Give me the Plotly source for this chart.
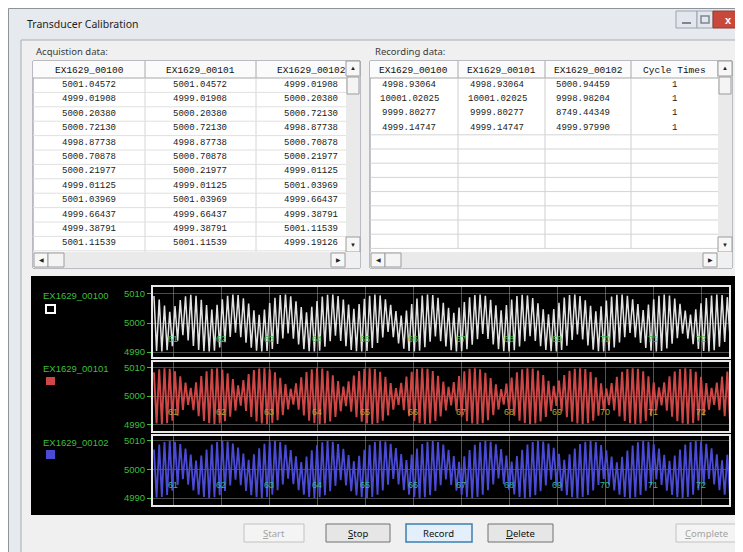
import plotly.graph_objects as go

W, H = 743, 552

# ---------------- data ----------------
window_title = "Transducer Calibration"
acq_label = "Acquistion data:"
rec_label = "Recording data:"

channel_names = ["EX1629_00100", "EX1629_00101", "EX1629_00102"]

acq_col1 = ["5001.04572", "4999.01908", "5000.20380", "5000.72130", "4998.87738", "5000.70878",
            "5000.21977", "4999.01125", "5001.03969", "4999.66437", "4999.38791", "5001.11539"]
acq_col2 = ["5001.04572", "4999.01908", "5000.20380", "5000.72130", "4998.87738", "5000.70878",
            "5000.21977", "4999.01125", "5001.03969", "4999.66437", "4999.38791", "5001.11539"]
acq_col3 = ["4999.01908", "5000.20380", "5000.72130", "4998.87738", "5000.70878", "5000.21977",
            "4999.01125", "5001.03969", "4999.66437", "4999.38791", "5001.11539", "4999.19126"]

rec_headers = ["EX1629_00100", "EX1629_00101", "EX1629_00102", "Cycle Times"]
rec_col1 = ["4998.93064", "10001.02025", "9999.80277", "4999.14747"]
rec_col2 = ["4998.93064", "10001.02025", "9999.80277", "4999.14747"]
rec_col3 = ["5000.94459", "9998.98204", "8749.44349", "4999.97990"]
rec_cycles = ["1", "1", "1", "1"]

y_tick_values = [4990, 5000, 5010]
y_tick_labels = ["4990", "5000", "5010"]
time_labels = ["61", "62", "63", "64", "65", "66", "67", "68", "69", "70", "71", "72"]

start_time = 60.6
sample_interval = 12 / 219

white_peaks = [
    5009.3, 5008.1, 5006.0, 5003.9, 5005.8, 5007.9, 5009.2, 5009.7, 5009.4, 5008.0,
    5006.2, 5004.6, 5006.3, 5008.2, 5009.4, 5009.8, 5009.6, 5008.5, 5006.7, 5004.4,
    5002.8, 5004.6, 5006.9, 5008.7, 5009.6, 5009.8, 5009.2, 5007.5, 5005.5, 5003.7,
    5005.6, 5007.6, 5009.1, 5009.7, 5009.8, 5009.3, 5008.1, 5006.4, 5004.9, 5006.5,
    5008.3, 5009.4, 5009.8, 5009.5, 5008.2, 5006.3, 5004.1, 5002.6, 5004.3, 5006.5,
    5008.4, 5009.5, 5009.8, 5009.6, 5008.7, 5007.0, 5005.2, 5003.5, 5005.3, 5007.2,
    5008.9, 5009.6, 5009.8, 5009.4, 5008.0, 5006.1, 5004.4, 5006.2, 5008.1, 5009.3,
    5009.7, 5009.5, 5008.6, 5006.8, 5004.7, 5003.0, 5004.8, 5007.0, 5008.8, 5009.6,
    5009.8, 5009.3, 5007.8, 5005.9, 5004.0, 5005.8, 5007.7, 5009.1, 5009.7, 5009.8,
    5009.4, 5008.2, 5006.5, 5004.5, 5006.4, 5008.2, 5009.4, 5009.8, 5009.5, 5008.4,
    5006.6, 5004.3, 5002.9, 5004.7, 5006.8, 5008.6, 5009.5, 5009.8, 5009.6, 5008.9]
white_troughs = [
    4990.4, 4990.2, 4990.6, 4992.0, 4993.9, 4995.8, 4994.0, 4992.1, 4990.7, 4990.3,
    4990.2, 4990.5, 4991.6, 4993.4, 4995.2, 4996.7, 4995.1, 4993.2, 4991.5, 4990.5,
    4990.2, 4990.4, 4991.1, 4992.8, 4994.7, 4996.4, 4994.6, 4992.6, 4991.0, 4990.3,
    4990.2, 4990.5, 4991.8, 4993.7, 4995.6, 4993.8, 4992.0, 4990.7, 4990.3, 4990.2,
    4990.4, 4991.4, 4993.1, 4995.0, 4996.9, 4995.1, 4993.0, 4991.2, 4990.4, 4990.2,
    4990.5, 4991.7, 4993.6, 4995.4, 4993.7, 4991.9, 4990.6, 4990.2, 4990.3, 4991.0,
    4992.5, 4994.4, 4996.2, 4994.5, 4992.6, 4991.0, 4990.3, 4990.2, 4990.6, 4991.9,
    4993.7, 4995.5, 4993.8, 4992.0, 4990.7, 4990.3, 4990.2, 4990.7, 4992.2, 4994.2,
    4996.1, 4994.3, 4992.3, 4990.8, 4990.3, 4990.2, 4990.5, 4991.6, 4993.3, 4995.1,
    4996.6, 4995.0, 4993.1, 4991.4, 4990.5, 4990.2, 4990.4, 4991.2, 4992.9, 4994.8,
    4996.3, 4994.6, 4992.7, 4991.1, 4990.4, 4990.2, 4990.6, 4991.8, 4993.5, 4995.3]

red_peaks = [
    5008.4, 5009.5, 5009.9, 5009.7, 5008.8, 5007.0, 5004.8, 5002.9, 5004.9, 5007.1,
    5008.8, 5009.7, 5009.9, 5009.4, 5008.1, 5006.0, 5003.8, 5005.7, 5007.8, 5009.2,
    5009.8, 5009.9, 5009.5, 5008.4, 5006.5, 5004.3, 5002.6, 5004.5, 5006.7, 5008.5,
    5009.5, 5009.9, 5009.8, 5009.0, 5007.4, 5005.3, 5003.4, 5005.2, 5007.3, 5008.9,
    5009.7, 5009.9, 5009.6, 5008.6, 5006.8, 5004.6, 5002.8, 5004.7, 5006.9, 5008.6,
    5009.6, 5009.9, 5009.7, 5008.9, 5007.2, 5005.1, 5003.3, 5005.0, 5007.1, 5008.8,
    5009.7, 5009.9, 5009.5, 5008.3, 5006.4, 5004.2, 5002.5, 5004.4, 5006.6, 5008.4,
    5009.5, 5009.9, 5009.8, 5009.1, 5007.5, 5005.4, 5003.6, 5005.5, 5007.5, 5009.0,
    5009.7, 5009.9, 5009.6, 5008.5, 5006.7, 5004.5, 5002.7, 5004.6, 5006.8, 5008.6,
    5009.6, 5009.9, 5009.7, 5008.8, 5007.0, 5004.9, 5003.1, 5004.9, 5007.0, 5008.7,
    5009.6, 5009.9, 5009.6, 5008.6, 5006.8, 5004.6, 5002.9, 5004.8, 5006.9, 5008.7]
red_troughs = [
    4990.3, 4990.1, 4990.4, 4991.3, 4993.0, 4995.1, 4996.9, 4995.0, 4992.9, 4991.2,
    4990.4, 4990.1, 4990.3, 4991.1, 4992.7, 4994.8, 4996.6, 4994.7, 4992.6, 4991.0,
    4990.3, 4990.1, 4990.4, 4991.4, 4993.2, 4995.3, 4997.0, 4995.2, 4993.1, 4991.3,
    4990.4, 4990.1, 4990.3, 4991.0, 4992.6, 4994.6, 4996.4, 4994.5, 4992.5, 4990.9,
    4990.3, 4990.1, 4990.4, 4991.3, 4993.1, 4995.2, 4996.9, 4995.0, 4992.9, 4991.2,
    4990.4, 4990.1, 4990.3, 4991.2, 4992.8, 4994.9, 4996.7, 4994.8, 4992.7, 4991.1,
    4990.3, 4990.1, 4990.4, 4991.4, 4993.2, 4995.2, 4997.0, 4995.1, 4993.0, 4991.3,
    4990.4, 4990.1, 4990.3, 4991.0, 4992.6, 4994.7, 4996.5, 4994.6, 4992.5, 4990.9,
    4990.3, 4990.1, 4990.4, 4991.3, 4993.0, 4995.1, 4996.8, 4994.9, 4992.8, 4991.2,
    4990.4, 4990.1, 4990.3, 4991.2, 4992.9, 4995.0, 4996.7, 4994.8, 4992.7, 4991.1,
    4990.3, 4990.1, 4990.4, 4991.3, 4993.1, 4995.2, 4996.9, 4995.0, 4992.9, 4991.2]

blue_peaks = [
    5007.0, 5008.7, 5009.6, 5009.9, 5009.7, 5008.9, 5007.3, 5005.2, 5003.1, 5004.9,
    5007.0, 5008.7, 5009.6, 5009.9, 5009.8, 5009.1, 5007.7, 5005.6, 5003.4, 5005.3,
    5007.4, 5009.0, 5009.8, 5009.9, 5009.6, 5008.6, 5006.8, 5004.6, 5002.6, 5004.5,
    5006.7, 5008.5, 5009.5, 5009.9, 5009.7, 5008.9, 5007.2, 5005.0, 5002.9, 5004.8,
    5006.9, 5008.6, 5009.6, 5009.9, 5009.8, 5009.0, 5007.5, 5005.4, 5003.3, 5005.2,
    5007.3, 5008.9, 5009.7, 5009.9, 5009.6, 5008.7, 5006.9, 5004.7, 5002.7, 5004.6,
    5006.8, 5008.6, 5009.5, 5009.9, 5009.7, 5008.8, 5007.1, 5004.9, 5002.8, 5004.7,
    5006.9, 5008.7, 5009.6, 5009.9, 5009.8, 5009.1, 5007.6, 5005.5, 5003.4, 5005.3,
    5007.3, 5008.9, 5009.7, 5009.9, 5009.6, 5008.5, 5006.7, 5004.5, 5002.5, 5004.4,
    5006.6, 5008.4, 5009.5, 5009.9, 5009.7, 5008.9, 5007.3, 5005.1, 5003.0, 5004.9,
    5007.0, 5008.7, 5009.6, 5009.9, 5009.8, 5009.0, 5007.4, 5005.3, 5003.2, 5005.1]
blue_troughs = [
    4990.2, 4990.4, 4991.1, 4992.6, 4994.6, 4996.6, 4994.7, 4992.7, 4991.2, 4990.4,
    4990.1, 4990.3, 4991.0, 4992.5, 4994.4, 4996.4, 4994.5, 4992.5, 4991.0, 4990.3,
    4990.1, 4990.4, 4991.2, 4992.8, 4994.8, 4996.8, 4994.9, 4992.8, 4991.2, 4990.4,
    4990.1, 4990.3, 4991.0, 4992.4, 4994.3, 4996.3, 4994.4, 4992.4, 4990.9, 4990.3,
    4990.1, 4990.4, 4991.2, 4992.7, 4994.7, 4996.7, 4994.8, 4992.8, 4991.2, 4990.4,
    4990.1, 4990.3, 4991.0, 4992.5, 4994.5, 4996.5, 4994.6, 4992.6, 4991.1, 4990.3,
    4990.1, 4990.4, 4991.2, 4992.8, 4994.8, 4996.9, 4994.9, 4992.9, 4991.3, 4990.4,
    4990.1, 4990.3, 4991.0, 4992.4, 4994.4, 4996.4, 4994.5, 4992.5, 4991.0, 4990.3,
    4990.1, 4990.4, 4991.1, 4992.7, 4994.6, 4996.6, 4994.7, 4992.7, 4991.2, 4990.4,
    4990.1, 4990.3, 4991.1, 4992.6, 4994.5, 4996.5, 4994.6, 4992.6, 4991.1, 4990.3,
    4990.1, 4990.4, 4991.2, 4992.8, 4994.7, 4996.7, 4994.8, 4992.8, 4991.2, 4990.4]

button_labels = ["<u>S</u>tart", "<u>S</u>top", "Record", "<u>D</u>elete", "<u>C</u>omplete"]

# ---------------- helpers ----------------
shapes = []
annotations = []


def R(x0, y0, x1, y1, fill=None, line=None, w=1, layer="below"):
    shapes.append(dict(type="rect", xref="paper", yref="paper",
                       x0=x0 / W, x1=x1 / W, y0=1 - y1 / H, y1=1 - y0 / H,
                       fillcolor=fill or "rgba(0,0,0,0)",
                       line=dict(color=line or "rgba(0,0,0,0)", width=w if line else 0),
                       layer=layer))


def L(x0, y0, x1, y1, color, w=1, layer="below"):
    shapes.append(dict(type="line", xref="paper", yref="paper",
                       x0=x0 / W, x1=x1 / W, y0=1 - y0 / H, y1=1 - y1 / H,
                       line=dict(color=color, width=w), layer=layer))


def T(x, y, s, size=9, color="#111", family="Liberation Sans", xanchor="center"):
    annotations.append(dict(x=x / W, y=1 - y / H, xref="paper", yref="paper", text=s,
                            showarrow=False, xanchor=xanchor, yanchor="middle",
                            font=dict(size=size, color=color, family=family)))


# ---------------- window frame ----------------
R(0.5, 0.5, 742.5, 551.5, fill="#e6e9ed", line="#8c939b")
R(13, 32, 734, 546, fill="#f0f0f0", line="#a7adb4")
T(17, 16, window_title, size=10.5, color="#1e1e1e", family="Noto Sans", xanchor="left")
R(668, 3, 689, 20, fill="#e3e7ed", line="#9aa3ad")
R(689, 3, 705, 20, fill="#e3e7ed", line="#9aa3ad")
R(705, 3, 735, 20, fill="#c8493c", line="#8e3a32")
L(674, 15, 683, 15, "#7d8794", 2)
R(693, 8, 701, 15, line="#7d8794", w=1.5)
T(720, 11.5, "<b>x</b>", size=11, color="#ffffff")

# ---------------- tables ----------------
ROW = 14.4
mono = "Liberation Mono"


def scrollbars(x0, x1, sb):
    R(sb, 53, x1, 244, fill="#eaeaea")
    R(sb, 53, x1, 68, fill="#f7f7f7", line="#9c9c9c")
    T((sb + x1) / 2, 60.5, "▲", size=6, color="#222")
    R(sb + 1, 69, x1 - 1, 86, fill="#f4f4f4", line="#9c9c9c")
    R(sb, 229, x1, 244, fill="#f7f7f7", line="#9c9c9c")
    T((sb + x1) / 2, 236.5, "▼", size=6, color="#222")
    R(x0, 244, sb, 260, fill="#eaeaea")
    R(x0 + 1, 245, x0 + 15, 259, fill="#f7f7f7", line="#9c9c9c")
    T(x0 + 8, 252, "◀", size=6, color="#222")
    R(x0 + 15, 245, x0 + 31, 259, fill="#f4f4f4", line="#9c9c9c")
    R(sb - 15, 245, sb - 1, 259, fill="#f7f7f7", line="#9c9c9c")
    T(sb - 8, 252, "▶", size=6, color="#222")
    R(sb, 244, x1, 260, fill="#f0f0f0")


# left table
T(26, 43, acq_label, size=9.5, color="#3a3a3a", family="Noto Sans", xanchor="left")
R(25, 53, 352, 260, fill="#ffffff", line="#828790")
R(25, 53, 338, 70, fill="#fbfbfb")
L(25, 70, 338, 70, "#a8a8a8")
for xd in [137, 248]:
    L(xd, 53, xd, 70, "#a8a8a8")
    L(xd, 70, xd, 244, "#d6d6d6")
for k in range(1, 13):
    L(25, 70 + k * ROW, 338, 70 + k * ROW, "#e0e0e0")
left_centers = [81, 192, 303]
for cx, hdr in zip(left_centers, channel_names):
    T(cx, 62, hdr, size=9.5, color="#111", family=mono)
for cx, col in zip(left_centers, [acq_col1, acq_col2, acq_col3]):
    for r, v in enumerate(col):
        T(cx, 77 + r * ROW, v, size=9, color="#1a1a1a", family=mono)
scrollbars(25, 352, 338)

# right table
T(365, 43, rec_label, size=9.5, color="#3a3a3a", family="Noto Sans", xanchor="left")
R(362, 53, 724, 260, fill="#ffffff", line="#828790")
R(362, 53, 710, 70, fill="#fbfbfb")
L(362, 70, 710, 70, "#a8a8a8")
for xd in [450, 537, 623]:
    L(xd, 53, xd, 70, "#a8a8a8")
    L(xd, 70, xd, 241, "#cfcfcf")
L(710, 53, 710, 70, "#a8a8a8")
RROW = 14.2
for k in range(4, 13):
    L(362, 70 + k * RROW, 710, 70 + k * RROW, "#d4d4d4")
right_hdr_centers = [406, 493, 580, 666]
right_val_centers = [401, 489, 575, 666]
for cx, hdr in zip(right_hdr_centers, rec_headers):
    T(cx, 62, hdr, size=9.5, color="#111", family=mono)
for cx, col in zip(right_val_centers, [rec_col1, rec_col2, rec_col3, rec_cycles]):
    for r, v in enumerate(col):
        T(cx, 77 + r * RROW, v, size=9, color="#1a1a1a", family=mono)
scrollbars(362, 724, 710)

# ---------------- chart area ----------------
R(23, 268, 731, 507, fill="#000000")

panel_tops = [279, 354, 428]
panel_bottoms = [349, 423, 497]
panel_ranges = [[4988.3, 5012.4], [4987.6, 5012.1], [4987.6, 5011.7]]
trace_colors = ["#e2e2e2", "#cf4646", "#4a4ad4"]
trace_widths = [1.5, 1.9, 1.8]
label_colors = ["#3fbf3f", "#b3a533", "#34b59a"]
series = [(white_peaks, white_troughs), (red_peaks, red_troughs), (blue_peaks, blue_troughs)]
legend_label_y = [287, 360, 434]
legend_sq = [(297, 305), (369, 377), (442, 451)]
green = "#3cbf3c"

fig = go.Figure()
for i in range(3):
    peaks, troughs = series[i]
    vals = []
    for p, q in zip(peaks, troughs):
        vals += [p, q]
    times = [start_time + n * sample_interval for n in range(len(vals))]
    ax = "" if i == 0 else str(i + 1)
    fig.add_trace(go.Scatter(x=times, y=vals, mode="lines",
                             line=dict(color=trace_colors[i], width=trace_widths[i]),
                             xaxis="x" + ax, yaxis="y" + ax, showlegend=False,
                             hoverinfo="skip"))
    fig.update_layout(**{
        "xaxis" + ax: dict(domain=[145 / W, 721 / W], range=[60.58, 72.58], anchor="y" + ax,
                           showgrid=True, gridcolor="rgba(150,150,150,0.55)", gridwidth=1,
                           dtick=1, tick0=0, showticklabels=False, zeroline=False,
                           showline=True, mirror=True, linecolor="#e8e8e8", linewidth=2,
                           ticks=""),
        "yaxis" + ax: dict(domain=[1 - panel_bottoms[i] / H, 1 - panel_tops[i] / H],
                           range=panel_ranges[i], anchor="x" + ax,
                           tickvals=y_tick_values, ticktext=y_tick_labels,
                           tickfont=dict(size=9.5, color=green, family="Liberation Sans"),
                           ticks="outside", ticklen=4, tickcolor=green, tickwidth=1,
                           showgrid=True, gridcolor="rgba(150,150,150,0.5)", zeroline=False,
                           showline=True, mirror=True, linecolor="#e8e8e8", linewidth=2),
    })
    for lbl in time_labels:
        annotations.append(dict(x=int(lbl), y=4994.5, xref="x" + ax, yref="y" + ax,
                                text=lbl, showarrow=False,
                                font=dict(size=9, color=label_colors[i], family="Liberation Sans")))
    T(33, legend_label_y[i], channel_names[i], size=9.5, color=green, xanchor="left")
    y0, y1 = legend_sq[i]
    if i == 0:
        R(38, y0, 47, y1, fill="#000000", line="#ffffff", w=2, layer="above")
    else:
        R(38, y0, 47, y1, fill=trace_colors[i], layer="above")

# ---------------- buttons ----------------
buttons = [(236, 296), (318, 382), (398, 464), (480, 545), (668, 728)]
for idx, ((bx0, bx1), lbl) in enumerate(zip(buttons, button_labels)):
    if idx in (0, 4):
        R(bx0, 516, bx1, 534, fill="#f4f4f4", line="#c2c2c2")
        col = "#a3a3a3"
    elif idx == 2:
        R(bx0, 516, bx1, 534, fill="#e3f0fb", line="#3c7fb1", w=1.5)
        col = "#111"
    else:
        R(bx0, 516, bx1, 534, fill="#e6e6e6", line="#707070")
        col = "#111"
    T((bx0 + bx1) / 2, 525, lbl, size=9.5, color=col, family="Noto Sans")

fig.update_layout(width=W, height=H, margin=dict(l=0, r=0, t=0, b=0),
                  paper_bgcolor="#e6e9ed", plot_bgcolor="#000000",
                  shapes=shapes, annotations=annotations, showlegend=False)

fig.write_html("out.html")
